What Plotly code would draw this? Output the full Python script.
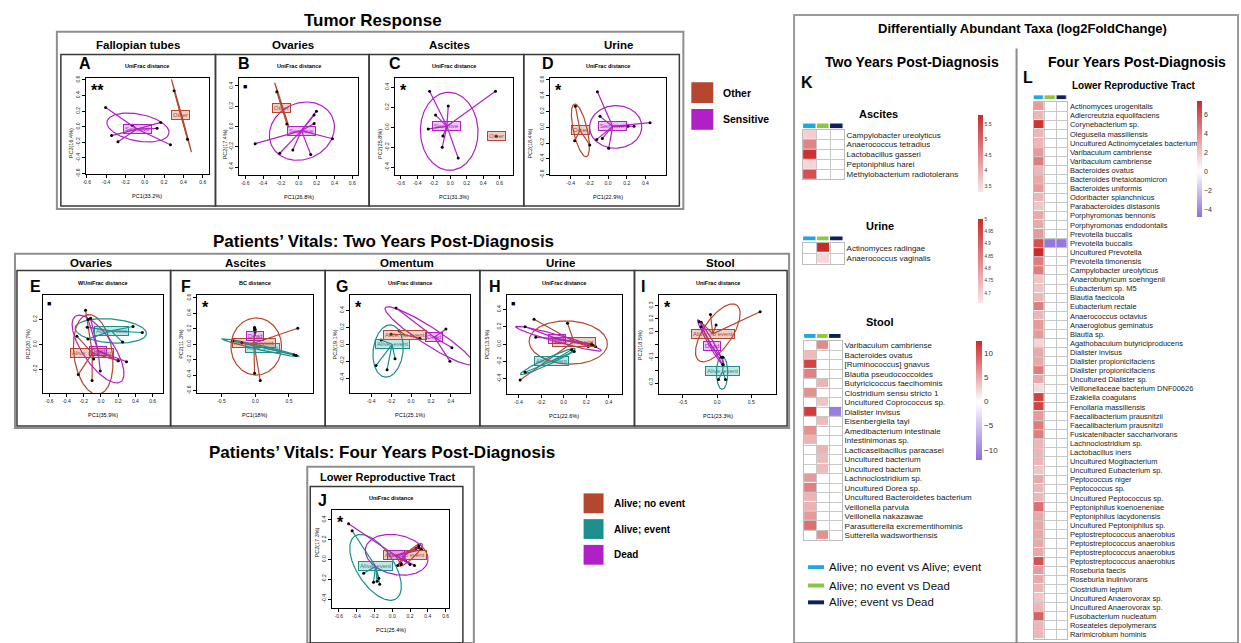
import numpy as np
import plotly.graph_objects as go

W, H = 1241, 643
FONT = "Liberation Sans, Arial, Helvetica, sans-serif"

BROWN = "#B5472E"
PURPLE = "#B020C6"
TEAL = "#1E8F8D"
CYAN = "#1DA8E0"
GREEN = "#8DC63F"
NAVY = "#0C1F5E"

# ---------------- PCoA data ----------------
# points (PC1, PC2), centroid, ellipse (cx, cy, semi-a, semi-b, angle deg)
A_OTHER_PTS = [(0.304, 0.461), (0.443, -0.16)]
A_OTHER_CEN = (0.374, 0.15)
A_OTHER_ELL = (0.38, 0.14, 0.477, 0.004, -77.5)
A_SENS_PTS = [(-0.405, 0.247), (-0.13, 0.02), (0.166, 0.055), (0.128, -0.02),
              (-0.343, -0.113), (-0.277, -0.193), (0.266, -0.23)]
A_SENS_CEN = (-0.08, -0.03)
A_SENS_ELL = (-0.07, -0.01, 0.33, 0.17, -15)

B_OTHER_PTS = [(-0.246, 0.343), (-0.134, 0.026)]
B_OTHER_CEN = (-0.19, 0.184)
B_OTHER_ELL = (-0.19, 0.21, 0.235, 0.004, -70)
B_SENS_PTS = [(-0.489, -0.168), (-0.213, -0.262), (-0.067, -0.23), (0.134, -0.275),
              (0.377, -0.12), (0.198, 0.152), (0.172, 0.113), (0.172, 0.03)]
B_SENS_CEN = (0.03, -0.04)
B_SENS_ELL = (0.035, -0.045, 0.37, 0.28, 15)

C_OTHER_PTS = [(0.56, -0.09)]
C_OTHER_CEN = (0.56, -0.09)
C_SENS_PTS = [(-0.25, 0.36), (-0.024, 0.214), (-0.178, 0.122), (-0.267, -0.016),
              (-0.089, -0.086), (-0.097, -0.20), (0.097, -0.306), (0.55, 0.36)]
C_SENS_CEN = (-0.04, 0.01)
C_SENS_ELL = (-0.012, -0.04, 0.39, 0.35, 95)

D_OTHER_PTS = [(-0.35, 0.267), (-0.357, -0.171), (-0.196, -0.225)]
D_OTHER_CEN = (-0.30, -0.04)
D_OTHER_ELL = (-0.296, -0.04, 0.34, 0.075, 100.6)
D_SENS_PTS = [(-0.114, 0.45), (-0.086, 0.1375), (-0.121, -0.154), (-0.061, -0.142),
              (0.007, -0.267), (0.214, 0.0125), (0.279, 0.0125), (0.45, 0.058)]
D_SENS_CEN = (0.05, 0.01)
D_SENS_ELL = (0.082, 0.004, 0.28, 0.27, 10)

E_NOEV_PTS = [(-0.179, 0.275), (-0.28, 0.067), (-0.263, -0.24), (-0.103, -0.29),
              (-0.084, -0.117), (0.2, -0.13)]
E_NOEV_CEN = (-0.1, -0.07)
E_NOEV_ELL = (-0.09, -0.08, 0.327, 0.22, -74)
E_EV_PTS = [(-0.16, 0.139), (-0.152, 0.043), (0.373, 0.144), (0.48, 0.096), (0.251, 0.019)]
E_EV_CEN = (0.118, 0.109)
E_EV_ELL = (0.114, 0.109, 0.415, 0.096, -3)
E_DEAD_PTS = [(-0.15, 0.2), (-0.12, 0.21), (-0.008, -0.213), (0.297, -0.139), (0.2, -0.13)]
E_DEAD_CEN = (-0.034, -0.05)
E_DEAD_ELL = (-0.034, -0.037, 0.377, 0.15, -41)

F_NOEV_PTS = [(0.63, 0.207), (-0.01, -0.375), (0.074, -0.47), (-0.01, 0.215), (0.0, 0.19)]
F_NOEV_CEN = (-0.02, 0.013)
F_NOEV_ELL = (0.015, -0.03, 0.375, 0.37, 0)
F_EV_PTS = [(0.606, -0.147), (0.575, -0.135), (-0.33, 0.04), (-0.2, 0.02)]
F_EV_CEN = (0.113, -0.043)
F_EV_ELL = (0.08, -0.045, 0.584, 0.028, -11.3)
F_DEAD_PTS = [(-0.01, 0.21), (-0.01, 0.18), (0.0, 0.16)]
F_DEAD_CEN = (0.0, 0.108)

G_NOEV_PTS = [(-0.12, 0.16), (0.09, 0.07), (-0.2, 0.12)]
G_NOEV_CEN = (-0.057, 0.11)
G_EV_PTS = [(-0.35, -0.25), (-0.24, -0.3), (-0.16, -0.17), (-0.3, 0.05)]
G_EV_CEN = (-0.19, 0.0)
G_EV_ELL = (-0.23, -0.08, 0.31, 0.15, 85)
G_DEAD_PTS = [(-0.15, 0.43), (0.35, 0.18), (0.41, -0.04), (0.39, -0.2)]
G_DEAD_CEN = (0.233, 0.084)
G_DEAD_ELL = (0.18, 0.1, 0.55, 0.1, -37.5)

H_NOEV_PTS = [(-0.262, 0.286), (0.035, 0.24), (-0.385, -0.415), (0.247, 0.004), (0.218, -0.027)]
H_NOEV_CEN = (0.091, 0.03)
H_NOEV_ELL = (0.041, 0.019, 0.347, 0.248, -5)
H_EV_PTS = [(-0.341, -0.324), (0.071, -0.065), (0.094, -0.084)]
H_EV_CEN = (-0.106, -0.198)
H_EV_ELL = (-0.14, -0.2, 0.284, 0.035, 31.5)
H_DEAD_PTS = [(-0.341, 0.202), (-0.247, 0.08), (0.247, 0.0), (0.282, -0.027), (0.262, -0.015)]
H_DEAD_CEN = (-0.056, 0.061)
H_DEAD_ELL = (-0.045, 0.063, 0.404, 0.04, -20.1)

I_NOEV_PTS = [(-0.098, 0.233), (-0.015, 0.151), (0.629, 0.254), (-0.234, 0.172)]
I_NOEV_CEN = (-0.063, 0.082)
I_NOEV_ELL = (0.01, 0.09, 0.367, 0.15, 30)
I_EV_PTS = [(0.02, -0.272), (0.122, -0.272), (0.083, -0.1)]
I_EV_CEN = (0.083, -0.208)
I_EV_ELL = (0.073, -0.22, 0.128, 0.083, 90)
I_DEAD_PTS = [(-0.259, 0.177), (-0.234, 0.138), (0.059, -0.1), (0.083, -0.156)]
I_DEAD_CEN = (-0.078, -0.015)
I_DEAD_ELL = (-0.09, 0.01, 0.265, 0.03, -42.6)

J_NOEV_PTS = [(0.3, 0.14), (0.27, 0.11), (0.15, -0.01), (0.1, -0.04), (0.06, -0.06)]
J_NOEV_CEN = (0.14, 0.045)
J_NOEV_ELL = (0.206, 0.047, 0.172, 0.04, 40)
J_EV_PTS = [(-0.45, 0.29), (-0.32, -0.14), (-0.21, -0.23), (-0.17, -0.22), (-0.14, -0.25), (-0.15, -0.19)]
J_EV_CEN = (-0.187, -0.07)
J_EV_ELL = (-0.187, -0.08, 0.393, 0.2, -51.7)
J_DEAD_PTS = [(-0.49, 0.36), (0.3, 0.12), (0.33, 0.1), (0.2, -0.05), (0.25, -0.06), (0.1, -0.05)]
J_DEAD_CEN = (0.037, 0.04)
J_DEAD_ELL = (0.05, 0.047, 0.356, 0.2, -10)

# ---------------- heatmap data (log2FoldChange) ----------------
COMPARISONS = ["Alive; no event vs Alive; event", "Alive; no event vs Dead", "Alive; event vs Dead"]

K_ASC_TAXA = ["Campylobacter ureolyticus", "Anaerococcus tetradius", "Lactobacillus gasseri",
              "Peptoniphilus harei", "Methylobacterium radiotolerans"]
K_ASC_VALS = [[3.6, None, None], [4.6, None, None], [5.7, None, None], [3.5, None, None], [5.3, None, None]]

K_URI_TAXA = ["Actinomyces radingae", "Anaerococcus vaginalis"]
K_URI_VALS = [[None, 5.0, None], [None, 4.69, None]]

K_STOOL_TAXA = ["Varibaculum cambriense", "Bacteroides ovatus", "[Ruminococcus] gnavus",
                "Blautia pseudococcoides", "Butyricicoccus faecihominis", "Clostridium sensu stricto 1",
                "Uncultured Coprococcus sp.", "Dialister invisus", "Eisenbergiella tayi",
                "Amedibacterium intestinale", "Intestinimonas sp.", "Lacticaseibacillus paracasei",
                "Uncultured bacterium", "Uncultured bacterium", "Lachnoclostridium sp.",
                "Uncultured Dorea sp.", "Uncultured Bacteroidetes bacterium", "Veillonella parvula",
                "Veillonella nakazawae", "Parasutterella excrementihominis", "Sutterella wadsworthensis"]
K_STOOL_VALS = [[None, 7.0, None], [4.0, None, None], [11.0, None, None], [7.5, None, None],
                [None, 4.5, None], [6.5, None, None], [None, 3.5, None], [11.5, None, -11.0],
                [None, 4.0, None], [6.5, None, None], [4.5, None, None], [None, 4.5, None],
                [None, 4.0, None], [None, 4.0, None], [6.0, None, None], [7.5, None, None],
                [4.5, None, None], [4.5, None, None], [6.0, None, None], [8.5, None, None],
                [None, 6.5, None]]

L_TAXA = ["Actinomyces urogenitalis", "Adlercreutzia equolifaciens", "Corynebacterium sp.",
          "Olegusella massiliensis", "Uncultured Actinomycetales bacterium", "Varibaculum cambriense",
          "Varibaculum cambriense", "Bacteroides ovatus", "Bacteroides thetaiotaomicron",
          "Bacteroides uniformis", "Odoribacter splanchnicus", "Parabacteroides distasonis",
          "Porphyromonas bennonis", "Porphyromonas endodontalis", "Prevotella buccalis",
          "Prevotella buccalis", "Uncultured Prevotella", "Prevotella timonensis",
          "Campylobacter ureolyticus", "Anaerobutyricum soehngenii", "Eubacterium sp. M5",
          "Blautia faecicola", "Eubacterium rectale", "Anaerococcus octavius", "Anaeroglobus geminatus",
          "Blautia sp.", "Agathobaculum butyriciproducens", "Dialister invisus",
          "Dialister propionicifaciens", "Dialister propionicifaciens", "Uncultured Dialister sp.",
          "Veillonellaceae bacterium DNF00626", "Ezakiella coagulans", "Fenollaria massiliensis",
          "Faecalibacterium prausnitzii", "Faecalibacterium prausnitzii", "Fusicatenibacter saccharivorans",
          "Lachnoclostridium sp.", "Lactobacillus iners", "Uncultured Mogibacterium",
          "Uncultured Eubacterium sp.", "Peptococcus niger", "Peptococcus sp.",
          "Uncultured Peptococcus sp.", "Peptoniphilus koenoeneniae", "Peptoniphilus lacydonensis",
          "Uncultured Peptoniphilus sp.", "Peptostreptococcus anaerobius", "Peptostreptococcus anaerobius",
          "Peptostreptococcus anaerobius", "Peptostreptococcus anaerobius", "Roseburia faecis",
          "Roseburia inulinivorans", "Clostridium leptum", "Uncultured Anaerovorax sp.",
          "Uncultured Anaerovorax sp.", "Fusobacterium nucleatum", "Roseateles depolymerans",
          "Rarimicrobium hominis"]
L_COL1 = [3.5, 2.5, 7.0, 2.5, 2.5, 3.5, 4.5, 2.5, 3.0, 3.5, 2.5, 2.0, 3.0, 3.0, 3.5, 6.0, 7.5, 4.5,
          4.5, 2.0, 2.0, 2.5, 4.5, 2.5, 3.5, 3.5, 1.5, 3.0, 3.0, 4.5, 3.0, 1.2, 6.5, 6.5, 3.5, 4.5,
          4.5, 2.5, 2.5, 2.5, 2.0, 3.0, 2.5, 2.5, 5.0, 3.0, 3.0, 3.0, 3.0, 3.0, 6.0, 3.5, 3.0, 2.5,
          2.0, 2.5, 5.5, 2.5, 2.5]
L_COL2 = {15: -4.5}
L_COL3 = {15: -4.5}


def fx(p):
    return p / W


def fy(p):
    return 1 - p / H


def rgba(hexc, a):
    h = hexc.lstrip('#')
    return f"rgba({int(h[0:2],16)},{int(h[2:4],16)},{int(h[4:6],16)},{a})"


def fmt(v):
    return "0.0" if abs(v) < 1e-9 else f"{v:.1f}"


fig = go.Figure()
layout = {}
annotations = []
shapes = []


def ax_names(n):
    return ('x' if n == 1 else f'x{n}', 'y' if n == 1 else f'y{n}',
            'xaxis' if n == 1 else f'xaxis{n}', 'yaxis' if n == 1 else f'yaxis{n}')


def text(t, x, y, size, bold=True, xanchor='center', yanchor='middle', color='black', **kw):
    annotations.append(dict(text=(f"<b>{t}</b>" if bold else t), x=fx(x), y=fy(y), xref='paper',
                            yref='paper', showarrow=False, xanchor=xanchor, yanchor=yanchor,
                            font=dict(size=size, color=color, family=FONT), **kw))


def ellipse(e):
    cx, cy, a, b, ang = e
    t = np.linspace(0, 2 * np.pi, 181)
    th = np.deg2rad(ang)
    ex = cx + a * np.cos(t) * np.cos(th) - b * np.sin(t) * np.sin(th)
    ey = cy + a * np.cos(t) * np.sin(th) + b * np.sin(t) * np.cos(th)
    return ex, ey


def add_pcoa(n, box, xr, yr, xt, yt, ytt, dist, xtitle, ytitle, sig, groups):
    xa, ya, xk, yk = ax_names(n)
    x0, y0, x1, y1 = box
    common = dict(showline=True, linecolor='black', linewidth=1, mirror=True, ticks='outside',
                  ticklen=3, tickwidth=0.8, tickcolor='black', showgrid=False, zeroline=False,
                  tickfont=dict(size=5, color='#222', family=FONT), fixedrange=True)
    layout[xk] = dict(domain=[fx(x0), fx(x1)], range=list(xr), anchor=ya, tickmode='array',
                      tickvals=xt, ticktext=[fmt(v) for v in xt], **common)
    layout[yk] = dict(domain=[fy(y1), fy(y0)], range=list(yr), anchor=xa, tickmode='array',
                      tickvals=yt, ticktext=ytt if ytt else [fmt(v) for v in yt], tickangle=-90,
                      **common)
    labels = []
    for name, color, pts, cen, ell in groups:
        if ell is not None:
            ex, ey = ellipse(ell)
            fig.add_trace(go.Scatter(x=ex, y=ey, mode='lines', line=dict(color=color, width=1.2),
                                     xaxis=xa, yaxis=ya, hoverinfo='skip'))
        sx, sy = [], []
        for px, py in pts:
            sx += [cen[0], px, None]
            sy += [cen[1], py, None]
        fig.add_trace(go.Scatter(x=sx, y=sy, mode='lines', line=dict(color=color, width=1.2),
                                 xaxis=xa, yaxis=ya, hoverinfo='skip'))
        fig.add_trace(go.Scatter(x=[p[0] for p in pts], y=[p[1] for p in pts], mode='markers',
                                 marker=dict(size=3, color='black'), xaxis=xa, yaxis=ya,
                                 hoverinfo='skip'))
        labels.append(dict(x=cen[0], y=cen[1], xref=xa, yref=ya, text=name, showarrow=False,
                           font=dict(size=6, color=color, family=FONT), bgcolor=rgba(color, 0.25),
                           bordercolor=color, borderwidth=1, borderpad=1))
    annotations.extend(labels)
    cxm = (x0 + x1) / 2
    text(dist, cxm, y0 - 12, 5.5)
    text(xtitle, cxm, y1 + 22, 5.5, bold=False)
    annotations.append(dict(text=ytitle, x=fx(x0 - 20), y=fy((y0 + y1) / 2), xref='paper',
                            yref='paper', showarrow=False, textangle=-90,
                            font=dict(size=5.5, family=FONT, color='#222')))
    if sig == "sq":
        text("■", x0 + 6, y0 + 8, 7, bold=False)
    else:
        text(sig, x0 + 3, y0 + 2, 16, xanchor='left', yanchor='top')


def div_scale(zmin, zmax):
    m = (0 - zmin) / (zmax - zmin)
    return [[0, '#8E6FDC'], [m, '#FFFFFF'], [1, '#CB2A2A']]


def add_heat(n, cells, header, names, rows, zmin, zmax, cscale, cb, lsize):
    xa, ya, xk, yk = ax_names(n)
    x0, y0, x1, y1 = cells
    nr = len(rows)
    z = [[np.nan if v is None else v for v in r] for r in rows]
    fig.add_trace(go.Heatmap(z=z, x=[0, 1, 2], y=list(range(nr)), zmin=zmin, zmax=zmax,
                             colorscale=cscale, xgap=1, ygap=1, colorbar=cb, xaxis=xa, yaxis=ya,
                             hoverinfo='skip'))
    layout[xk] = dict(domain=[fx(x0), fx(x1)], range=[-0.5, 2.5], anchor=ya, showticklabels=False,
                      ticks='', showgrid=False, zeroline=False, showline=True, mirror=True,
                      linecolor='#bdbdbd', linewidth=1, fixedrange=True,
                      minor=dict(tickmode='array', tickvals=[0.5, 1.5], showgrid=True,
                                 gridcolor='#c8c8c8', gridwidth=1, ticks=''))
    layout[yk] = dict(domain=[fy(y1), fy(y0)], range=[nr - 0.5, -0.5], anchor=xa, side='right',
                      tickmode='array', tickvals=list(range(nr)), ticktext=names, ticks='',
                      tickfont=dict(size=lsize, color='#222', family=FONT), showgrid=False,
                      zeroline=False, showline=True, mirror=True, linecolor='#bdbdbd',
                      linewidth=1, fixedrange=True,
                      minor=dict(tickmode='array', tickvals=[i + 0.5 for i in range(nr - 1)],
                                 showgrid=True, gridcolor='#c8c8c8', gridwidth=1, ticks=''))
    # header bar of comparisons
    xa2, ya2, xk2, yk2 = ax_names(n + 1)
    hx0, hy0, hx1, hy1 = header
    fig.add_trace(go.Heatmap(z=[[0, 1, 2]], x=[0, 1, 2], y=[0], zmin=0, zmax=2, xgap=1.5,
                             colorscale=[[0, CYAN], [0.333, CYAN], [0.334, GREEN], [0.666, GREEN],
                                         [0.667, NAVY], [1, NAVY]],
                             showscale=False, xaxis=xa2, yaxis=ya2, hovertext=[COMPARISONS],
                             hoverinfo='text'))
    hid = dict(showticklabels=False, ticks='', showgrid=False, zeroline=False, showline=False,
               fixedrange=True)
    layout[xk2] = dict(domain=[fx(hx0), fx(hx1)], range=[-0.5, 2.5], anchor=ya2, **hid)
    layout[yk2] = dict(domain=[fy(hy1), fy(hy0)], range=[-0.5, 0.5], anchor=xa2, **hid)


def cbar(x, ytop, length, thick, size, tv, tt=None):
    d = dict(x=fx(x), xanchor='left', xref='paper', y=fy(ytop), yanchor='top', yref='paper',
             len=length, lenmode='pixels', thickness=thick, thicknessmode='pixels',
             outlinewidth=0, xpad=0, ypad=0, ticklen=0, tickmode='array', tickvals=tv,
             tickfont=dict(size=size, color='#333', family=FONT))
    if tt:
        d['ticktext'] = tt
    return d


T6 = [-0.6, -0.4, -0.2, 0.0, 0.2, 0.4, 0.6]
T4 = [-0.4, -0.2, 0.0, 0.2, 0.4]
T5 = [-0.5, 0.0, 0.5]

# ---------- Tumor response ----------
add_pcoa(1, (83, 76, 206, 173), (-0.61, 0.66), (-0.61, 0.62), T6, T6, None, "UniFrac distance",
         "PC1(33.2%)", "PC2(16.4%)", "**",
         [("Other", BROWN, A_OTHER_PTS, A_OTHER_CEN, A_OTHER_ELL),
          ("Sensitive", PURPLE, A_SENS_PTS, A_SENS_CEN, A_SENS_ELL)])
add_pcoa(2, (237, 76, 356, 174), (-0.665, 0.665), (-0.48, 0.475), T6, T4, None, "UniFrac distance",
         "PC1(26.8%)", "PC2(17.4%)", "sq",
         [("Other", BROWN, B_OTHER_PTS, B_OTHER_CEN, B_OTHER_ELL),
          ("Sensitive", PURPLE, B_SENS_PTS, B_SENS_CEN, B_SENS_ELL)])
add_pcoa(3, (393, 76, 511, 174), (-0.67, 0.76), (-0.48, 0.49), T6, T4, None, "UniFrac distance",
         "PC1(31.3%)", "PC2(25.8%)", "*",
         [("Other", BROWN, C_OTHER_PTS, C_OTHER_CEN, None),
          ("Sensitive", PURPLE, C_SENS_PTS, C_SENS_CEN, C_SENS_ELL)])
add_pcoa(4, (548, 76, 665, 174), (-0.625, 0.625), (-0.61, 0.62), T4, T6, None, "UniFrac distance",
         "PC1(22.9%)", "PC2(18.4%)", "*",
         [("Other", BROWN, D_OTHER_PTS, D_OTHER_CEN, D_OTHER_ELL),
          ("Sensitive", PURPLE, D_SENS_PTS, D_SENS_CEN, D_SENS_ELL)])

# ---------- Two years ----------
add_pcoa(5, (40, 295, 160, 394), (-0.674, 0.716), (-0.392, 0.395), T6, [-0.2, 0.0, 0.2], None,
         "WUniFrac distance", "PC1(35.9%)", "PC2(20.7%)", "sq",
         [("Alive; no event", BROWN, E_NOEV_PTS, E_NOEV_CEN, E_NOEV_ELL),
          ("Alive; event", TEAL, E_EV_PTS, E_EV_CEN, E_EV_ELL),
          ("Dead", PURPLE, E_DEAD_PTS, E_DEAD_CEN, E_DEAD_ELL)])
add_pcoa(6, (194, 295, 311, 394), (-0.87, 0.86), (-0.636, 0.634), T5, T6, None, "BC distance",
         "PC1(18%)", "PC2(11.3%)", "*",
         [("Alive; no event", BROWN, F_NOEV_PTS, F_NOEV_CEN, F_NOEV_ELL),
          ("Alive; event", TEAL, F_EV_PTS, F_EV_CEN, F_EV_ELL),
          ("Dead", PURPLE, F_DEAD_PTS, F_DEAD_CEN, None)])
add_pcoa(7, (348, 295, 468, 394), (-0.61, 0.59), (-0.58, 0.58), T4, T4, None, "UniFrac distance",
         "PC1(25.1%)", "PC2(19.1%)", "*",
         [("Alive; no event", BROWN, G_NOEV_PTS, G_NOEV_CEN, None),
          ("Alive; event", TEAL, G_EV_PTS, G_EV_CEN, G_EV_ELL),
          ("Dead", PURPLE, G_DEAD_PTS, G_DEAD_CEN, G_DEAD_ELL)])
add_pcoa(8, (505, 295, 620, 395), (-0.503, 0.512), (-0.579, 0.564), T4, T4, None, "UniFrac distance",
         "PC1(22.6%)", "PC2(13.5%)", "sq",
         [("Alive; no event", BROWN, H_NOEV_PTS, H_NOEV_CEN, H_NOEV_ELL),
          ("Alive; event", TEAL, H_EV_PTS, H_EV_CEN, H_EV_ELL),
          ("Dead", PURPLE, H_DEAD_PTS, H_DEAD_CEN, H_DEAD_ELL)])
add_pcoa(9, (658, 295, 775, 395), (-0.844, 0.863), (-0.387, 0.382), T5,
         [-0.3, -0.2, -0.1, 0.0, 0.1, 0.2, 0.3], ["-0.3", "", "-0.1", "", "0.1", "0.2", "0.3"],
         "UniFrac distance", "PC1(23.3%)", "PC2(18.5%)", "*",
         [("Alive; no event", BROWN, I_NOEV_PTS, I_NOEV_CEN, I_NOEV_ELL),
          ("Alive; event", TEAL, I_EV_PTS, I_EV_CEN, I_EV_ELL),
          ("Dead", PURPLE, I_DEAD_PTS, I_DEAD_CEN, I_DEAD_ELL)])

# ---------- Four years ----------
add_pcoa(10, (330, 512, 447, 611), (-0.674, 0.637), (-0.493, 0.497), T6, T4, None, "UniFrac distance",
         "PC1(25.4%)", "PC2(17.3%)", "*",
         [("Alive; no event", BROWN, J_NOEV_PTS, J_NOEV_CEN, J_NOEV_ELL),
          ("Alive; event", TEAL, J_EV_PTS, J_EV_CEN, J_EV_ELL),
          ("Dead", PURPLE, J_DEAD_PTS, J_DEAD_CEN, J_DEAD_ELL)])

# ---------- Heatmaps ----------
RED_ONLY = [[0, '#FBE4EA'], [1, '#CB2A2A']]
add_heat(11, (802, 128, 843, 178), (802, 121.5, 843, 126.5), K_ASC_TAXA, K_ASC_VALS, 3.3, 5.8,
         RED_ONLY, cbar(977, 113, 77, 5, 5, [3.5, 4, 4.5, 5, 5.5]), 8)
add_heat(13, (802, 242, 843, 263), (802, 235.5, 843, 240), K_URI_TAXA, K_URI_VALS, 4.66, 5.0,
         RED_ONLY, cbar(977, 218, 84, 5, 4.5, [4.7, 4.75, 4.8, 4.85, 4.9, 4.95, 5.0],
                        ["4.7", "4.75", "4.8", "4.85", "4.9", "4.95", "5"]), 8)
add_heat(15, (803, 341, 841, 542), (803, 334, 841, 338.5), K_STOOL_TAXA, K_STOOL_VALS, -12.1, 12.6,
         div_scale(-12.1, 12.6), cbar(975, 341, 119, 6, 8, [-10, -5, 0, 5, 10]), 8)
L_ROWS = [[v, L_COL2.get(i), L_COL3.get(i)] for i, v in enumerate(L_COL1)]
add_heat(17, (1033, 100, 1067, 642), (1033, 93, 1067, 97.5), L_TAXA, L_ROWS, -4.8, 7.4,
         div_scale(-4.8, 7.4), cbar(1197, 99, 116, 5, 7, [-4, -2, 0, 2, 4, 6]), 7.5)

# ---------- frames ----------
def rect(x0, y0, x1, y1, color, width, fill=None):
    shapes.append(dict(type='rect', xref='paper', yref='paper', x0=fx(x0), x1=fx(x1), y0=fy(y1),
                       y1=fy(y0), line=dict(color=color, width=width),
                       fillcolor=fill if fill else 'rgba(0,0,0,0)'))


GRAYF = '#8e8e8e'
DARKF = '#3a3a3a'
rect(54, 29, 682, 208, GRAYF, 2)
for a, b in [(58, 213), (213, 367), (367, 522), (522, 678)]:
    rect(a, 52, b, 205, DARKF, 1.5)
rect(12, 253, 788, 429, GRAYF, 2)
for a, b in [(14, 168), (168, 323), (323, 478), (478, 633), (633, 786)]:
    rect(a, 270, b, 427, DARKF, 1.5)
rect(305, 468, 472, 646, GRAYF, 2)
rect(308, 488, 461, 646, DARKF, 1.5)
rect(793, 12, 1238, 646, '#9a9a9a', 2)
shapes.append(dict(type='line', xref='paper', yref='paper', x0=fx(1016), x1=fx(1016), y0=fy(46),
                   y1=fy(646), line=dict(color='#8a8a8a', width=2)))

# ---------- titles ----------
text("Tumor Response", 371, 18, 17)
text("Patients’ Vitals: Two Years Post-Diagnosis", 381, 241, 17)
text("Patients’ Vitals: Four Years Post-Diagnosis", 380, 454, 17)
for t, x in [("Fallopian tubes", 135), ("Ovaries", 291), ("Ascites", 448), ("Urine", 617)]:
    text(t, x, 42, 11.5)
for t, x in [("Ovaries", 88), ("Ascites", 243), ("Omentum", 405), ("Urine", 559), ("Stool", 719)]:
    text(t, x, 262, 11.5)
text("Lower Reproductive Tract", 385, 478, 11)
for t, x, y in [("A", 82, 61), ("B", 242, 61), ("C", 393, 61), ("D", 546, 61),
                ("E", 33, 286), ("F", 183, 286), ("G", 340, 286), ("H", 493, 286), ("I", 642, 286),
                ("J", 320, 502)]:
    text(t, x, y, 16)

# legends
rect(690, 80, 712, 101, BROWN, 0, BROWN)
rect(690, 107, 712, 128, PURPLE, 0, PURPLE)
text("Other", 720, 90.5, 10.5, xanchor='left')
text("Sensitive", 720, 117.5, 10.5, xanchor='left')
rect(582, 495, 602, 515, BROWN, 0, BROWN)
rect(582, 521, 602, 541, TEAL, 0, TEAL)
rect(582, 547, 602, 567, PURPLE, 0, PURPLE)
text("Alive; no event", 610, 505, 10, xanchor='left')
text("Alive; event", 610, 531, 10, xanchor='left')
text("Dead", 610, 557, 10, xanchor='left')

# right side titles
text("Differentially Abundant Taxa (log2FoldChange)", 1022, 26, 13)
text("Two Years Post-Diagnosis", 911, 60, 14)
text("Four Years Post-Diagnosis", 1137, 60, 14)
text("K", 798, 80, 16, xanchor='left')
text("L", 1020, 75, 16, xanchor='left')
text("Lower Reproductive Tract", 1133, 83, 10)
text("Ascites", 878, 112, 11)
text("Urine", 879, 225, 11)
text("Stool", 879, 322, 11)
for (c, lab, y) in zip([CYAN, GREEN, NAVY], COMPARISONS, [569.5, 588, 605]):
    rect(807, y - 2, 823, y + 2, c, 0, c)
    text(lab, 826, y, 11.5, bold=False, xanchor='left', color='#111')

fig.update_layout(width=W, height=H, margin=dict(l=0, r=0, t=0, b=0), paper_bgcolor='white',
                  plot_bgcolor='rgba(0,0,0,0)', showlegend=False, font=dict(family=FONT),
                  annotations=annotations, shapes=shapes, **layout)
fig.write_html("out.html", config={'displayModeBar': False},
               post_script="document.body.style.margin='0';document.body.style.overflow='hidden';")
